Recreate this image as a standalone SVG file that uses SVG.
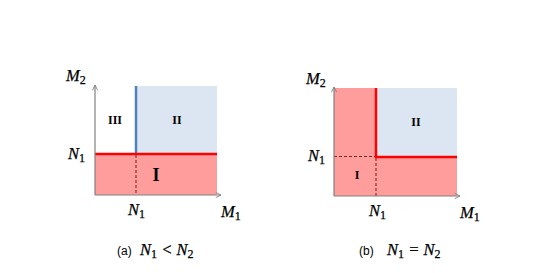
<svg xmlns="http://www.w3.org/2000/svg" width="552" height="273" viewBox="0 0 552 273">
<style>
.red{fill:#ff9d9d}
.blue{fill:#dce6f2}
.axis{stroke:#808080;stroke-width:1.2;fill:none}
.rl{stroke:#ff0000;stroke-width:2.5;fill:none}
.bl{stroke:#4f81bd;stroke-width:2.5;fill:none}
.dash{stroke:#8b2020;stroke-width:1.1;stroke-dasharray:3,2;fill:none}
.m{font-family:"Liberation Serif",serif;font-style:italic;font-size:16.5px;fill:#000;stroke:#000;stroke-width:0.25}
.sub{font-style:normal;font-size:12px}
.rn{font-family:"Liberation Serif",serif;font-weight:bold;font-size:12px;fill:#000;text-anchor:middle}
.cap{font-family:"Liberation Sans",sans-serif;font-size:12px;fill:#000}
</style>
<defs>
<marker id="ah" viewBox="0 0 8 8" refX="7" refY="4" markerWidth="7" markerHeight="7" markerUnits="userSpaceOnUse" orient="auto">
<path d="M1,1 L7,4 L1,7" fill="none" stroke="#808080" stroke-width="1"/>
</marker>
</defs>
<rect width="552" height="273" fill="#fff"/>
<g id="plotA">
<rect class="blue" x="136" y="86" width="81" height="68"/>
<rect class="red" x="95" y="154" width="122" height="41"/>
<line class="dash" x1="136" y1="155" x2="136" y2="195"/>
<line class="bl" x1="136" y1="86" x2="136" y2="154"/>
<line class="rl" x1="95" y1="154" x2="217" y2="154"/>
<line class="axis" x1="95" y1="195" x2="95" y2="85" marker-end="url(#ah)"/>
<line class="axis" x1="95" y1="195" x2="221" y2="195" marker-end="url(#ah)"/>
<text class="m" x="66" y="81">M<tspan class="sub" dy="3">2</tspan></text>
<text class="m" x="68" y="159">N<tspan class="sub" dy="3">1</tspan></text>
<text class="m" x="128" y="215">N<tspan class="sub" dy="3">1</tspan></text>
<text class="m" x="221" y="217">M<tspan class="sub" dy="3">1</tspan></text>
<text class="rn" x="115" y="124">III</text>
<text class="rn" x="177" y="124">II</text>
<text class="rn" x="156" y="181" style="font-size:18px">I</text>
</g>
<g id="plotB">
<rect class="red" x="334" y="88" width="123" height="108"/>
<rect class="blue" x="376" y="88" width="81" height="69"/>
<line class="dash" x1="334" y1="156.5" x2="376" y2="156.5"/>
<line class="dash" x1="376" y1="158" x2="376" y2="196"/>
<path class="rl" d="M376,88 V157 H457"/>
<line class="axis" x1="334" y1="196" x2="334" y2="87" marker-end="url(#ah)"/>
<line class="axis" x1="334" y1="196" x2="460" y2="196" marker-end="url(#ah)"/>
<text class="m" x="306" y="84">M<tspan class="sub" dy="3">2</tspan></text>
<text class="m" x="308" y="161">N<tspan class="sub" dy="3">1</tspan></text>
<text class="m" x="369" y="216">N<tspan class="sub" dy="3">1</tspan></text>
<text class="m" x="460" y="218">M<tspan class="sub" dy="3">1</tspan></text>
<text class="rn" x="416" y="126">II</text>
<text class="rn" x="357" y="179">I</text>
</g>
<g id="captions">
<text class="cap" x="117" y="255">(a)</text>
<text class="m" x="140" y="255">N<tspan class="sub" dy="3">1</tspan><tspan dy="-3"> &lt; N</tspan><tspan class="sub" dy="3">2</tspan></text>
<text class="cap" x="359" y="255">(b)</text>
<text class="m" x="387" y="255">N<tspan class="sub" dy="3">1</tspan><tspan dy="-3"> = N</tspan><tspan class="sub" dy="3">2</tspan></text>
</g>
</svg>
